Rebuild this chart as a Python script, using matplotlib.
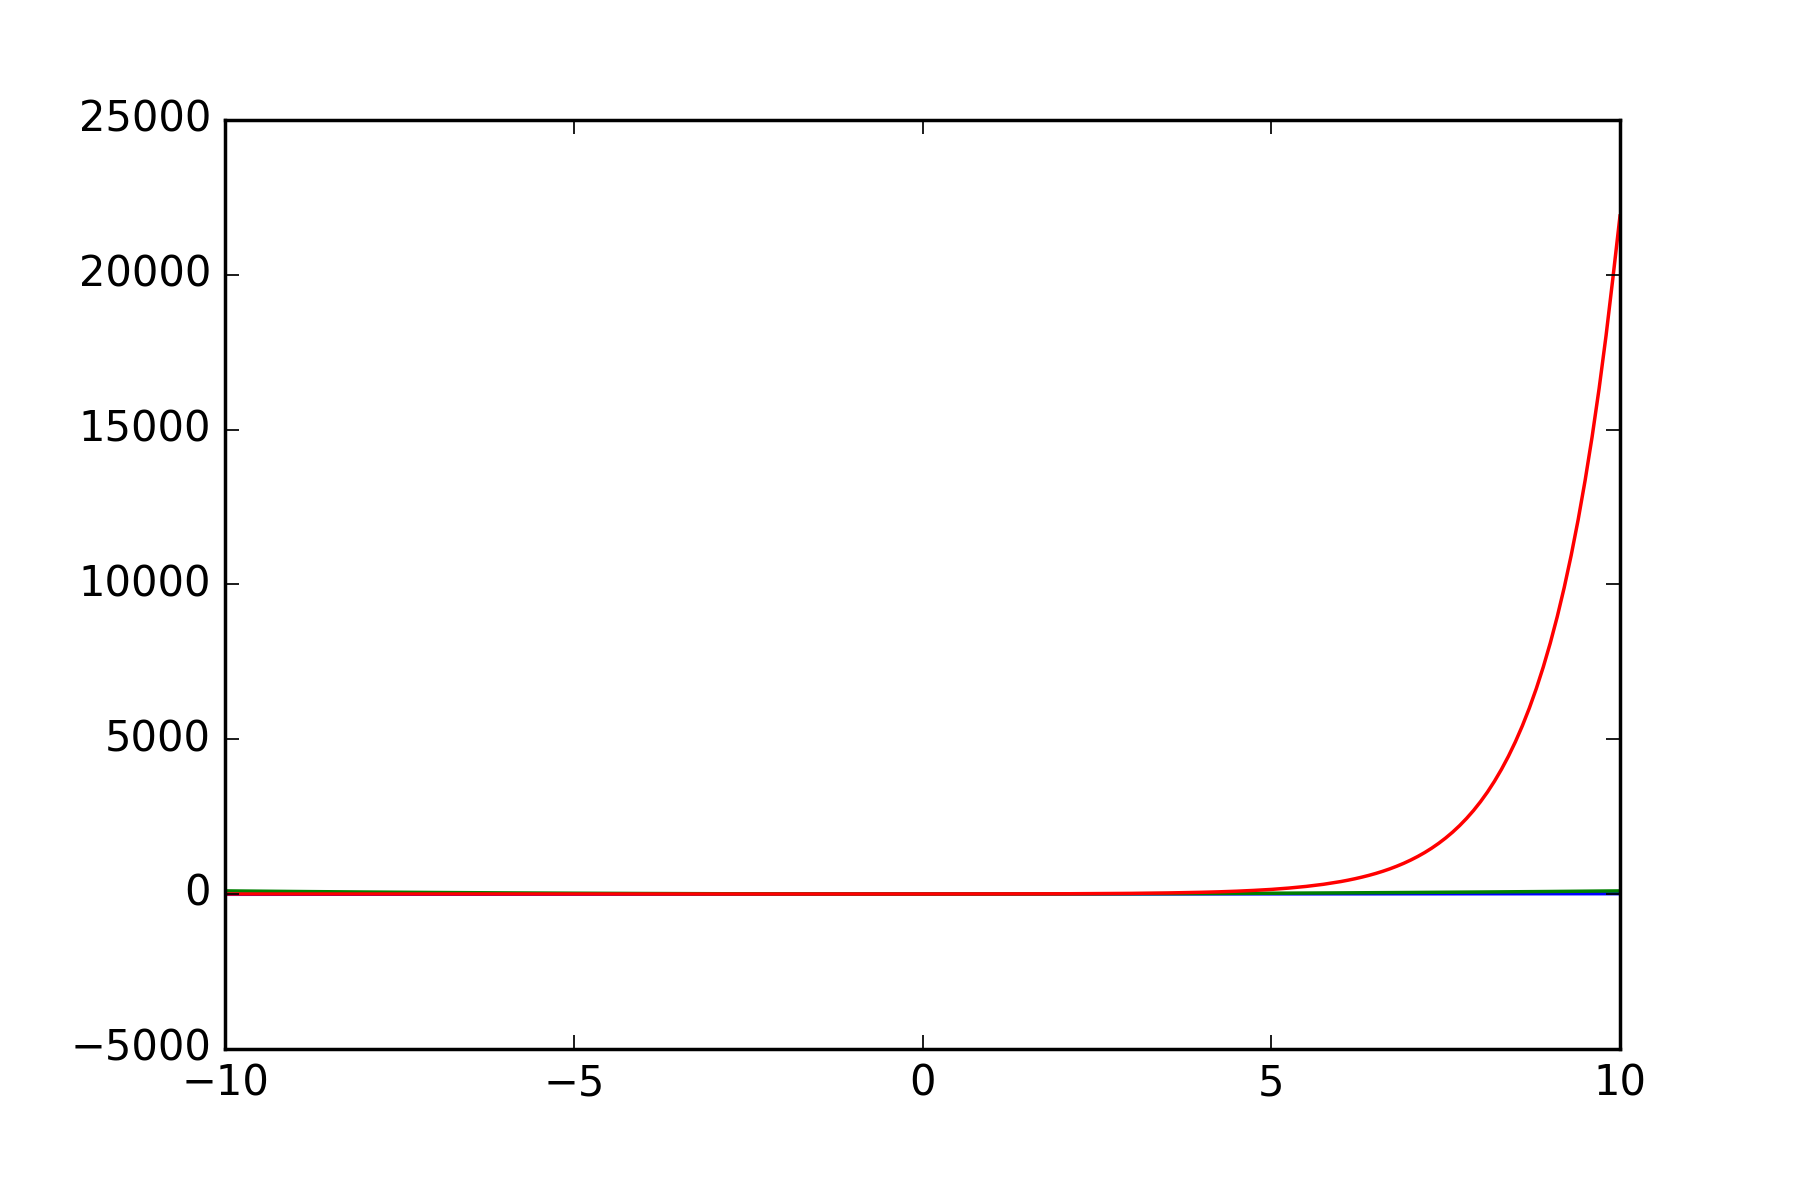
import matplotlib
matplotlib.use("Agg")
import matplotlib.pyplot as plt

plt.style.use('classic')

# values
x_lin = [-10, -8, -6, -4, -2, 0, 2, 4, 6, 8, 10]
blue_y = [-10, -8, -6, -4, -2, 0, 2, 4, 6, 8, 10]

x_sq = [-10, -9, -8, -7, -6, -5, -4, -3, -2, -1, 0, 1, 2, 3, 4, 5, 6, 7, 8, 9, 10]
green_y = [100, 81, 64, 49, 36, 25, 16, 9, 4, 1, 0, 1, 4, 9, 16, 25, 36, 49, 64, 81, 100]

red_x = [-10, -8, -6, -4, -2, 0, 1, 2, 3, 3.5, 4, 4.25, 4.5, 4.75, 5, 5.25, 5.5, 5.75,
         6.0, 6.1, 6.2, 6.3, 6.4, 6.5, 6.6, 6.7, 6.8, 6.9,
         7.0, 7.1, 7.2, 7.3, 7.4, 7.5, 7.6, 7.7, 7.8, 7.9,
         8.0, 8.1, 8.2, 8.3, 8.4, 8.5, 8.6, 8.7, 8.8, 8.9,
         9.0, 9.1, 9.2, 9.3, 9.4, 9.5, 9.6, 9.7, 9.8, 9.9, 10.0]
red_y = [0, 0, 0, 0, 0, 1, 3, 7, 20, 33, 55, 70, 90, 116, 148, 191, 245, 314,
         403, 446, 493, 545, 602, 665, 735, 812, 898, 992,
         1097, 1212, 1339, 1480, 1636, 1808, 1998, 2208, 2441, 2697,
         2981, 3294, 3641, 4024, 4447, 4915, 5432, 6003, 6634, 7332,
         8103, 8955, 9897, 10938, 12088, 13360, 14765, 16318, 18034, 19930, 21900]

fig = plt.figure(figsize=(7.2, 4.8), dpi=250)
ax = fig.add_subplot(111)
fig.subplots_adjust(left=0.125, right=0.9, top=0.9, bottom=0.126)

ax.plot(x_lin, blue_y, color='b')
ax.plot(x_sq, green_y, color='g')
ax.plot(red_x, red_y, color='r')

ax.set_xlim(-10, 10)
ax.set_ylim(-5000, 25000)

fig.savefig('out.png', dpi=250, facecolor='white')
